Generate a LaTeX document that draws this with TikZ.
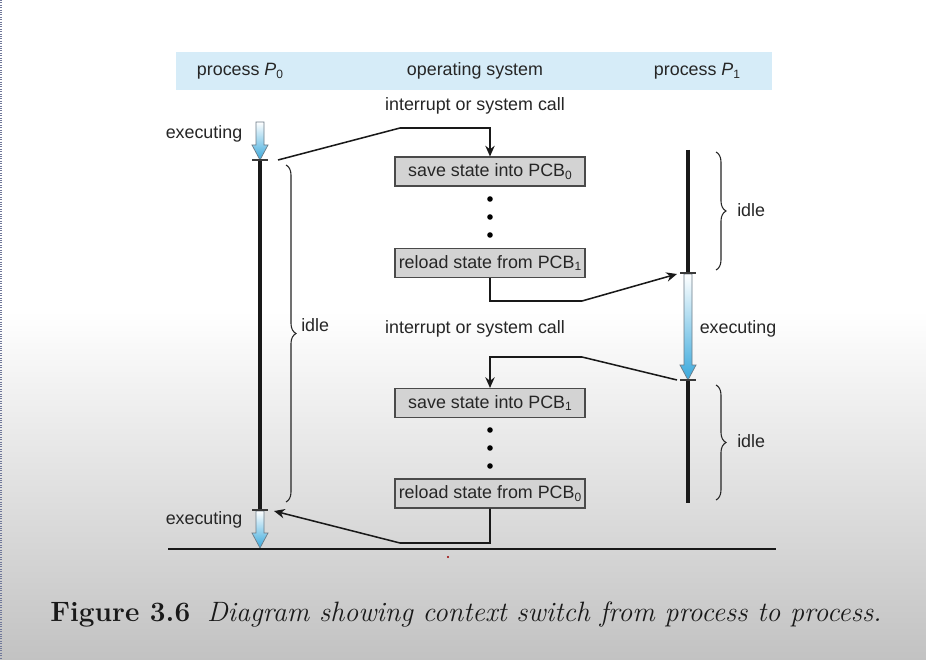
\documentclass[tikz,border=0pt]{standalone}
\usepackage{fontspec}
\newfontfamily\diagfont{Liberation Sans}
\usetikzlibrary{arrows.meta,decorations.pathreplacing}
\definecolor{bandblue}{HTML}{D6ECF8}
\definecolor{boxgray}{HTML}{D3D3D3}
\definecolor{boxedge}{HTML}{4A4A4A}
\definecolor{arrowblue}{HTML}{3AA9DC}
\definecolor{arrowedge}{HTML}{6C7C88}
\definecolor{bggray}{HTML}{C2C2C2}
\definecolor{borderblue}{HTML}{34406E}
\definecolor{tickgray}{HTML}{3A3A3A}
\newcommand\gradarrow[3]{%
  \shade[top color=white, bottom color=arrowblue, draw=arrowedge, line width=0.55pt]
    ({#1-4},#2) -- ({#1+4},#2) -- ({#1+4},{#3-15}) -- ({#1+8},{#3-15}) -- (#1,#3)
    -- ({#1-8},{#3-15}) -- ({#1-4},{#3-15}) -- cycle;}
\newcommand\subsc[1]{\raisebox{-0.3ex}{\fontsize{9}{10}\selectfont #1}}
\begin{document}
\begin{tikzpicture}[x=0.75pt,y=-0.75pt,
  lbl/.style={font=\diagfont\fontsize{13.4}{16}\selectfont, inner sep=0pt, text=black!85},
  pcbbox/.style={draw=boxedge, fill=boxgray, line width=0.8pt, minimum width=142.5pt,
     minimum height=21.75pt, inner sep=0pt, font=\diagfont\fontsize{13.4}{16}\selectfont, text=black!85},
  conn/.style={draw=black!90, line width=1.15pt, -{Stealth[length=8pt,width=7pt]}},
  thickline/.style={line width=3pt, black!90},
  tickline/.style={line width=0.9pt, tickgray},
  bracestyle/.style={decorate, decoration={brace, amplitude=7.5pt}, line width=0.8pt, black!85},
  dotnode/.style={circle, fill=black, inner sep=0pt, minimum size=4.2pt}
]
\useasboundingbox (0,0) rectangle (926,660);
% background
\fill[white] (0,0) rectangle (926,312);
\shade[top color=white, bottom color=bggray] (0,311) rectangle (926,660);
\draw[borderblue!70, line width=1.1pt, dash pattern=on 0.8pt off 1pt] (1,0) -- (1,660);
% header band
\fill[bandblue] (176,52) rectangle (772,90);
\node[lbl] (hp0) at (240,71) {process \textit{P}\subsc{0}};
\node[lbl] (hos) at (475,71) {operating system};
\node[lbl] (hp1) at (697,71) {process \textit{P}\subsc{1}};
% P0 timeline
\gradarrow{260}{122}{160}
\draw[thickline] (260,160) -- (260,510);
\gradarrow{260}{511}{548}
\draw[tickline] (252,160) -- (268,160);
\draw[tickline] (252,510) -- (268,510);
\coordinate (p0a) at (278,160);
\coordinate (p0b) at (274,511);
% P1 timeline
\draw[thickline] (688,150) -- (688,273);
\gradarrow{688}{274}{380}
\draw[thickline] (688,380) -- (688,503);
\draw[tickline] (680,273) -- (696,273);
\draw[tickline] (680,380) -- (696,380);
\coordinate (p1a) at (677,274);
\coordinate (p1b) at (677,380);
% bottom line
\draw[line width=1.5pt, black!90] (168,549) -- (776,549);
% labels
\node[lbl] (int1) at (475,106) {interrupt or system call};
\node[lbl] (int2) at (475,329) {interrupt or system call};
\node[lbl] (ex1) at (204,134) {executing};
\node[lbl] (ex2) at (204,520) {executing};
\node[lbl] (ex3) at (738,329) {executing};
% boxes
\node[pcbbox] (s0) at (490,171.5) {save state into PCB\subsc{0}};
\node[pcbbox] (r1) at (490,263) {reload state from PCB\subsc{1}};
\node[pcbbox] (s1) at (490,403) {save state into PCB\subsc{1}};
\node[pcbbox] (r0) at (490,493.5) {reload state from PCB\subsc{0}};
% dots
\node[dotnode] (d1) at (490,199) {};
\node[dotnode] (d2) at (490,217) {};
\node[dotnode] (d3) at (490,235) {};
\node[dotnode] (d4) at (490,430) {};
\node[dotnode] (d5) at (490,448) {};
\node[dotnode] (d6) at (490,466) {};
% connectors
\draw[conn] (p0a) -- (400,128) -| (s0.north);
\draw[conn] (r1.south) |- (582,301) -- (p1a);
\draw[conn] (p1b) -- (582,357) -| (s1.north);
\draw[conn] (r0.south) |- (400,543) -- (p0b);
% braces
\draw[bracestyle] (286,165) -- (286,502);
\node[lbl, anchor=west] (idle0) at (301,325) {idle};
\draw[bracestyle] (716,152) -- (716,270);
\node[lbl, anchor=west] (idle1) at (737,210) {idle};
\draw[bracestyle] (716,385) -- (716,500);
\node[lbl, anchor=west] (idle2) at (737,441) {idle};
% small red mark
\fill[red!60!black] (448,557) circle (1.2);
% caption
\node[inner sep=0pt, font=\fontsize{21}{25}\selectfont, text=black!90] (cap) at (466,614)
  {\textbf{Figure 3.6}\hspace{0.6em}\textit{Diagram showing context switch from process to process.}};
\end{tikzpicture}
\end{document}
